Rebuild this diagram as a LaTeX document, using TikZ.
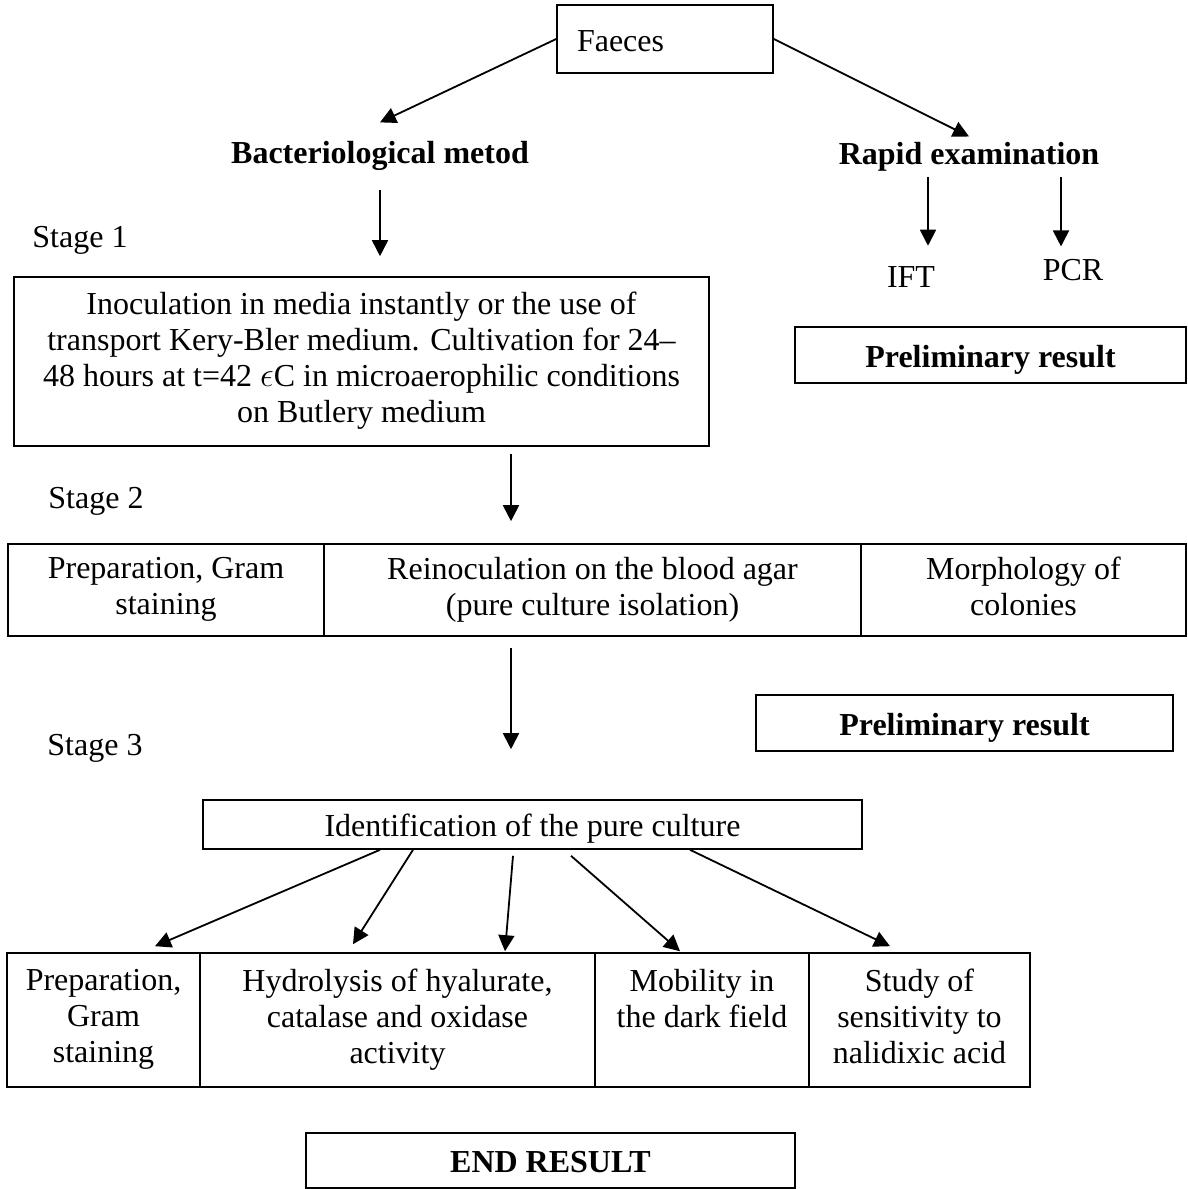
\documentclass[tikz,border=0pt]{standalone}
\usepackage{fontspec}
\setmainfont{Liberation Serif}
\usetikzlibrary{arrows.meta,calc}

\newcommand{\chartfont}{\fontsize{16}{18}\selectfont}
\newcommand{\boxstrut}{\rule[-4pt]{0pt}{20.1pt}}

\tikzset{
  box/.style={draw, line width=0.8pt, align=center, inner sep=0pt, font=\chartfont,
    execute at begin node={\boxstrut}, execute at end node={\boxstrut}},
  oneline/.style={text height=13.5pt, text depth=1pt},
  lbl/.style={inner sep=0pt, align=center, font=\chartfont},
  boldtext/.style={font=\chartfont\bfseries},
  arr/.style={-{Triangle[width=8pt,length=8pt]}, line width=0.9pt},
}

\begin{document}
\begin{tikzpicture}[x=0.5pt,y=-0.5pt]
  \useasboundingbox (0,0) rectangle (1188,1189);

  % sample
  \node[box, minimum width=108pt, minimum height=34pt, text width=88pt, align=left] (faeces) at (665,39) {Faeces};

  % two ways
  \node[lbl, boldtext] (bact) at (380,156) {Bacteriological metod};
  \node[lbl, boldtext] (rapid) at (969,157) {Rapid examination};
  \draw[arr] (faeces.west) -- ([yshift=9.3pt]bact.north);
  \draw[arr] (faeces.east) -- ([yshift=2.8pt]rapid.north);

  % stage labels
  \node[lbl] (stone) at (80,240) {Stage 1};
  \node[lbl] (sttwo) at (96,501) {Stage 2};
  \node[lbl] (stthree) at (95,748) {Stage 3};

  % rapid examination
  \coordinate (iftcol) at (928,0);
  \coordinate (pcrcol) at (1061,0);
  \node[lbl] (ift) at (911,277) {IFT};
  \node[lbl] (pcr) at (1073,270) {PCR};
  \draw[arr, shorten <=2.7pt, shorten >=10.2pt] (iftcol |- rapid.south) -- (iftcol |- ift.north);
  \draw[arr, shorten <=2.7pt, shorten >=6.2pt] (pcrcol |- rapid.south) -- (pcrcol |- pcr.north);
  \node[box, boldtext, oneline, minimum width=195.5pt, minimum height=28pt] (preone) at (990.5,355) {Preliminary result};

  % stage 1
  \node[box, minimum width=347.5pt, minimum height=84.5pt] (inoc) at (361.5,361.5)
    {Inoculation in media instantly or the use of\\
     transport Kery-Bler medium. Cultivation for 24--\\
     48 hours at t=42 $\epsilon$C in microaerophilic conditions\\
     on Butlery medium};
  \draw[arr, shorten <=9.3pt, shorten >=10pt] (bact.south) -- (bact.south |- inoc.north);

  % stage 2
  \coordinate (col) at (511,0);
  \node[box, minimum width=158pt, minimum height=46pt] (preptwo) at (166,590) {Preparation, Gram\\staining};
  \node[box, minimum width=268.5pt, minimum height=46pt] (reinoc) at (592.5,590) {Reinoculation on the blood agar\\(pure culture isolation)};
  \node[box, minimum width=162.5pt, minimum height=46pt] (morph) at (1023.5,590) {Morphology of\\colonies};
  \draw[arr, shorten <=3.5pt, shorten >=11pt] (col |- inoc.south) -- (col |- reinoc.north);

  \node[box, boldtext, oneline, minimum width=208.5pt, minimum height=28pt] (pretwo) at (964.5,723) {Preliminary result};

  % stage 3
  \node[box, minimum width=329.5pt, minimum height=24.5pt] (ident) at (532.5,824.5) {Identification of the pure culture};
  \draw[arr, shorten <=5.5pt, shorten >=25pt] (col |- reinoc.south) -- (col |- ident.north);

  \node[box, minimum width=96.5pt, minimum height=67pt] (prepthree) at (103.5,1020) {Preparation,\\Gram\\staining};
  \node[box, minimum width=197.5pt, minimum height=67pt] (hydro) at (397.5,1020) {Hydrolysis of hyalurate,\\catalase and oxidase\\activity};
  \node[box, minimum width=107pt, minimum height=67pt] (mobil) at (702,1020) {Mobility in\\the dark field\\};
  \node[box, minimum width=110.5pt, minimum height=67pt] (study) at (919.5,1020) {Study of\\sensitivity to\\nalidixic acid};

  \draw[arr] ([xshift=-76.25pt]ident.south) -- ([xshift=25.75pt,yshift=3pt]prepthree.north);
  \draw[arr] ([xshift=-59.75pt]ident.south) -- ([xshift=-22.25pt,yshift=4pt]hydro.north);
  \draw[arr] ([xshift=-9.75pt,yshift=-3pt]ident.south) -- ([xshift=53.75pt,yshift=0.5pt]hydro.north);
  \draw[arr] ([xshift=19.25pt,yshift=-3pt]ident.south) -- ([xshift=-11pt,yshift=0.5pt]mobil.north);
  \draw[arr] ([xshift=78.75pt]ident.south) -- ([xshift=-14.75pt,yshift=3pt]study.north);

  % result
  \node[box, boldtext, minimum width=244.5pt, minimum height=27.5pt] (endres) at (550.5,1160.5) {END RESULT};
\end{tikzpicture}
\end{document}
